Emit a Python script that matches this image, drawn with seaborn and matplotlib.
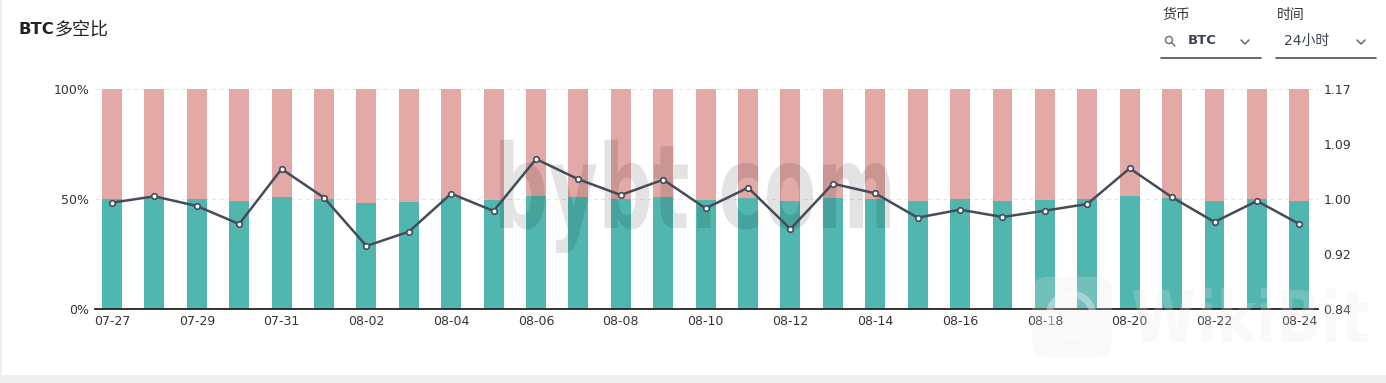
import numpy as np
import matplotlib
matplotlib.use('Agg')
import matplotlib.pyplot as plt
import seaborn as sns
from matplotlib.textpath import TextPath
from matplotlib.patches import PathPatch, FancyBboxPatch, Circle, Rectangle
from matplotlib.font_manager import FontProperties
from matplotlib.transforms import Affine2D, IdentityTransform
from matplotlib.lines import Line2D

# dados
datas = ['07-27', '07-28', '07-29', '07-30', '07-31', '08-01', '08-02', '08-03',
         '08-04', '08-05', '08-06', '08-07', '08-08', '08-09', '08-10', '08-11',
         '08-12', '08-13', '08-14', '08-15', '08-16', '08-17', '08-18', '08-19',
         '08-20', '08-21', '08-22', '08-23', '08-24']
longs_pct = [50.0, 50.3, 49.85, 49.1, 51.05, 50.15, 48.2, 48.8, 50.45, 49.7,
             51.5, 50.8, 50.15, 50.8, 49.7, 50.6, 48.9, 50.6, 50.15, 49.2,
             49.85, 49.2, 49.7, 50.0, 51.2, 50.3, 49.2, 50.0, 49.1]
total_pct = [100] * len(datas)
razao = [0.9995, 1.009, 0.9945, 0.9675, 1.05, 1.007, 0.9345, 0.956, 1.013, 0.987,
         1.065, 1.0345, 1.011, 1.034, 0.991, 1.022, 0.960, 1.028, 1.0135, 0.977,
         0.989, 0.978, 0.9875, 0.9975, 1.051, 1.0075, 0.9705, 1.002, 0.9675]
ticks_dir = ['0.84', '0.92', '1.00', '1.09', '1.17']

W, H = 1386, 383
VERDE = '#52b6b0'
ROSA = '#e3a9a7'
LINHA = '#454c59'
TEXTO = '#333333'

sns.set_style('white')
plt.rcParams['font.family'] = ['DejaVu Sans', 'Noto Sans CJK SC']

fig = plt.figure(figsize=(W / 100, H / 100), dpi=100)
fig.patch.set_facecolor('white')

ax = fig.add_axes([95 / W, (H - 309) / H, (1318 - 95) / W, 220 / H])

# barras empilhadas: fundo rosa (100%) e parte verde (long)
sns.barplot(x=datas, y=total_pct, color=ROSA, width=0.47, saturation=1,
            linewidth=0, edgecolor='none', ax=ax)
sns.barplot(x=datas, y=longs_pct, color=VERDE, width=0.47, saturation=1,
            linewidth=0, edgecolor='none', ax=ax)

ax.set_xlim(-0.40, 28.44)
ax.set_ylim(0, 100)
ax.set_yticks([0, 50, 100])
ax.set_yticklabels(['0%', '50%', '100%'])
ax.set_xticks(range(0, len(datas), 2))
ax.set_xticklabels(datas[::2])
ax.set_xlabel('')
ax.set_ylabel('')
ax.tick_params(length=0, labelsize=9, colors=TEXTO, pad=4)
ax.set_axisbelow(True)
ax.yaxis.grid(True, linestyle=(0, (4, 3)), color='#e6e6e6', linewidth=0.8)
for lado in ['left', 'right', 'top']:
    ax.spines[lado].set_visible(False)
ax.spines['bottom'].set_color('#222222')
ax.spines['bottom'].set_linewidth(1.3)

# marca d'água (texto condensado)
def carimbo(texto, x0, x1, y_base, altura, cor, alpha, destino, z):
    fp = FontProperties(family='DejaVu Sans', weight='bold')
    tp = TextPath((0, 0), texto, size=100, prop=fp)
    ref = TextPath((0, 0), texto[0], size=100, prop=fp).get_extents()
    ext = tp.get_extents()
    sx = (x1 - x0) / ext.width
    sy = altura / ref.height
    path = Affine2D().translate(-ext.x0, 0).scale(sx, sy).translate(x0, H - y_base).transform_path(tp)
    patch = PathPatch(path, transform=IdentityTransform(), lw=0, facecolor=cor, alpha=alpha, zorder=z)
    if destino is fig:
        fig.add_artist(patch)
    else:
        destino.add_patch(patch)

carimbo('bybt.com', 500, 890, 228, 90, 'black', 0.11, ax, 5)

# linha da razão no eixo direito
ax2 = ax.twinx()
x_pos = np.arange(len(datas))
sns.lineplot(x=x_pos, y=razao, ax=ax2, color=LINHA, linewidth=1.8, marker='o',
             markersize=4, markerfacecolor='white', markeredgecolor=LINHA,
             markeredgewidth=1.2)
ax2.set_ylim(0.84, 1.17)
ax2.set_yticks(np.linspace(0.84, 1.17, 5))
ax2.set_yticklabels(ticks_dir)
ax2.tick_params(length=0, labelsize=9, colors=TEXTO, pad=4)
ax2.set_ylabel('')
for lado in ['left', 'right', 'top', 'bottom']:
    ax2.spines[lado].set_visible(False)

# marca d'água WikiBit (bem clara)
fig.add_artist(FancyBboxPatch((1032, H - 357), 80, 80, boxstyle='round,pad=0,rounding_size=16',
                              transform=IdentityTransform(), facecolor='#e4e4e4', edgecolor='none',
                              alpha=0.22, zorder=3))
fig.add_artist(Circle((1071, H - 316), 22, transform=IdentityTransform(), facecolor='none',
                      edgecolor='white', linewidth=5, alpha=0.35, zorder=3))
carimbo('WikiBit', 1133, 1368, 342, 52, '#e4e4e4', 0.22, fig, 3)

# título e controles
fig.text(18 / W, 1 - 30 / H, 'BTC', fontsize=11.8, fontweight='bold', color='#222222',
         va='center', ha='left')
fig.text(55 / W, 1 - 30 / H, '多空比', fontsize=13, color='#222222',
         va='center', ha='left', family=['Noto Sans CJK SC'])
fig.text(1162 / W, 1 - 15 / H, '货币', fontsize=10, color=TEXTO, va='center',
         family=['Noto Sans CJK SC'])
fig.text(1277 / W, 1 - 15 / H, '时间', fontsize=10, color=TEXTO, va='center',
         family=['Noto Sans CJK SC'])
fig.text(1188 / W, 1 - 41 / H, 'BTC', fontsize=9.5, fontweight='bold', color='#3b4252', va='center')
fig.text(1284 / W, 1 - 41 / H, '24小时', fontsize=10, color='#3b4252', va='center',
         family=['DejaVu Sans', 'Noto Sans CJK SC'])

# ícone de busca, setas e sublinhados
fig.add_artist(Circle((1169, H - 40), 3.5, transform=IdentityTransform(), facecolor='none',
                      edgecolor='#777777', linewidth=1.1))
fig.add_artist(Line2D([1171.5, 1175], [H - 42.5, H - 46], transform=IdentityTransform(),
                      color='#777777', linewidth=1.1))
for cx in [1245, 1361]:
    fig.add_artist(Line2D([cx - 4, cx, cx + 4], [H - 40, H - 44, H - 40], transform=IdentityTransform(),
                          color='#666666', linewidth=1.1))
fig.add_artist(Line2D([1161, 1261], [H - 58, H - 58], transform=IdentityTransform(),
                      color='#4a5060', linewidth=1.2))
fig.add_artist(Line2D([1276, 1376], [H - 58, H - 58], transform=IdentityTransform(),
                      color='#4a5060', linewidth=1.2))

# faixas cinzas das bordas
fig.add_artist(Rectangle((0, 0), W, 8, transform=IdentityTransform(), facecolor='#efefef',
                         edgecolor='none'))
fig.add_artist(Rectangle((0, 0), 2, H, transform=IdentityTransform(), facecolor='#efefef',
                         edgecolor='none'))

fig.savefig('out.png', dpi=100)
